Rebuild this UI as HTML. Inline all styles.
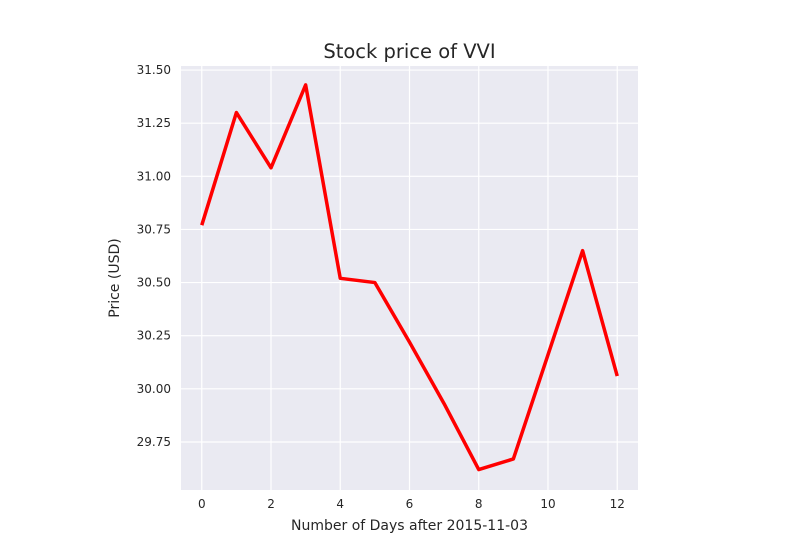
<!DOCTYPE html>
<html><head><meta charset="utf-8"><style>
body{margin:0;background:#fff;}
svg text{font-family:"DejaVu Sans","Liberation Sans",sans-serif;fill:#262626;}
</style></head><body>
<svg id="chart" width="800" height="550"></svg>
<script>
const days=[0,1,2,3,4,5,6,7,8,9,10,11,12];
const prices=[30.77,31.30,31.04,31.43,30.52,30.50,30.22,29.93,29.62,29.67,30.16,30.65,30.06];
const xTicks=[0,2,4,6,8,10,12];
const yTicks=[29.75,30.00,30.25,30.50,30.75,31.00,31.25,31.50];
const L=181,R=638,T=66,B=490;
const xMin=-0.6,xMax=12.6,yMin=29.524,yMax=31.519;
const sx=v=>L+(v-xMin)/(xMax-xMin)*(R-L);
const sy=v=>B-(v-yMin)/(yMax-yMin)*(B-T);
const svg=document.getElementById('chart');
const NS='http://www.w3.org/2000/svg';
function mk(t,a,p){const e=document.createElementNS(NS,t);for(const k in a)e.setAttribute(k,a[k]);(p||svg).appendChild(e);return e;}
const bg=mk('rect',{x:L,y:T,width:R-L,height:B-T,fill:'#eaeaf2'});


xTicks.forEach(v=>{
  const g=mk('line',{x1:sx(v),x2:sx(v),y1:T,y2:B,stroke:'#fff','stroke-width':1.2});
  
  
  const t=mk('text',{x:sx(v),y:B+18,'text-anchor':'middle','font-size':12});
  t.textContent=v;
  
  
});
yTicks.forEach(v=>{
  const g=mk('line',{x1:L,x2:R,y1:sy(v),y2:sy(v),stroke:'#fff','stroke-width':1.2});
  
  
  const t=mk('text',{x:L-10,y:sy(v)+4,'text-anchor':'end','font-size':12});
  t.textContent=v.toFixed(2);
  
  
});
const pts=days.map((d,i)=>sx(d)+','+sy(prices[i])).join(' ');
const line=mk('polyline',{points:pts,fill:'none',stroke:'#ff0000','stroke-width':3.5,'stroke-linejoin':'round'});


const title=mk('text',{x:(L+R)/2,y:58,'text-anchor':'middle','font-size':19.5});
title.textContent='Stock price of VVI';


const xl=mk('text',{x:(L+R)/2,y:530,'text-anchor':'middle','font-size':14});
xl.textContent='Number of Days after 2015-11-03';


const yl=mk('text',{x:119,y:(T+B)/2,'text-anchor':'middle','font-size':14,transform:'rotate(-90 119 '+((T+B)/2)+')'});
yl.textContent='Price (USD)';


</script>
</body></html>
